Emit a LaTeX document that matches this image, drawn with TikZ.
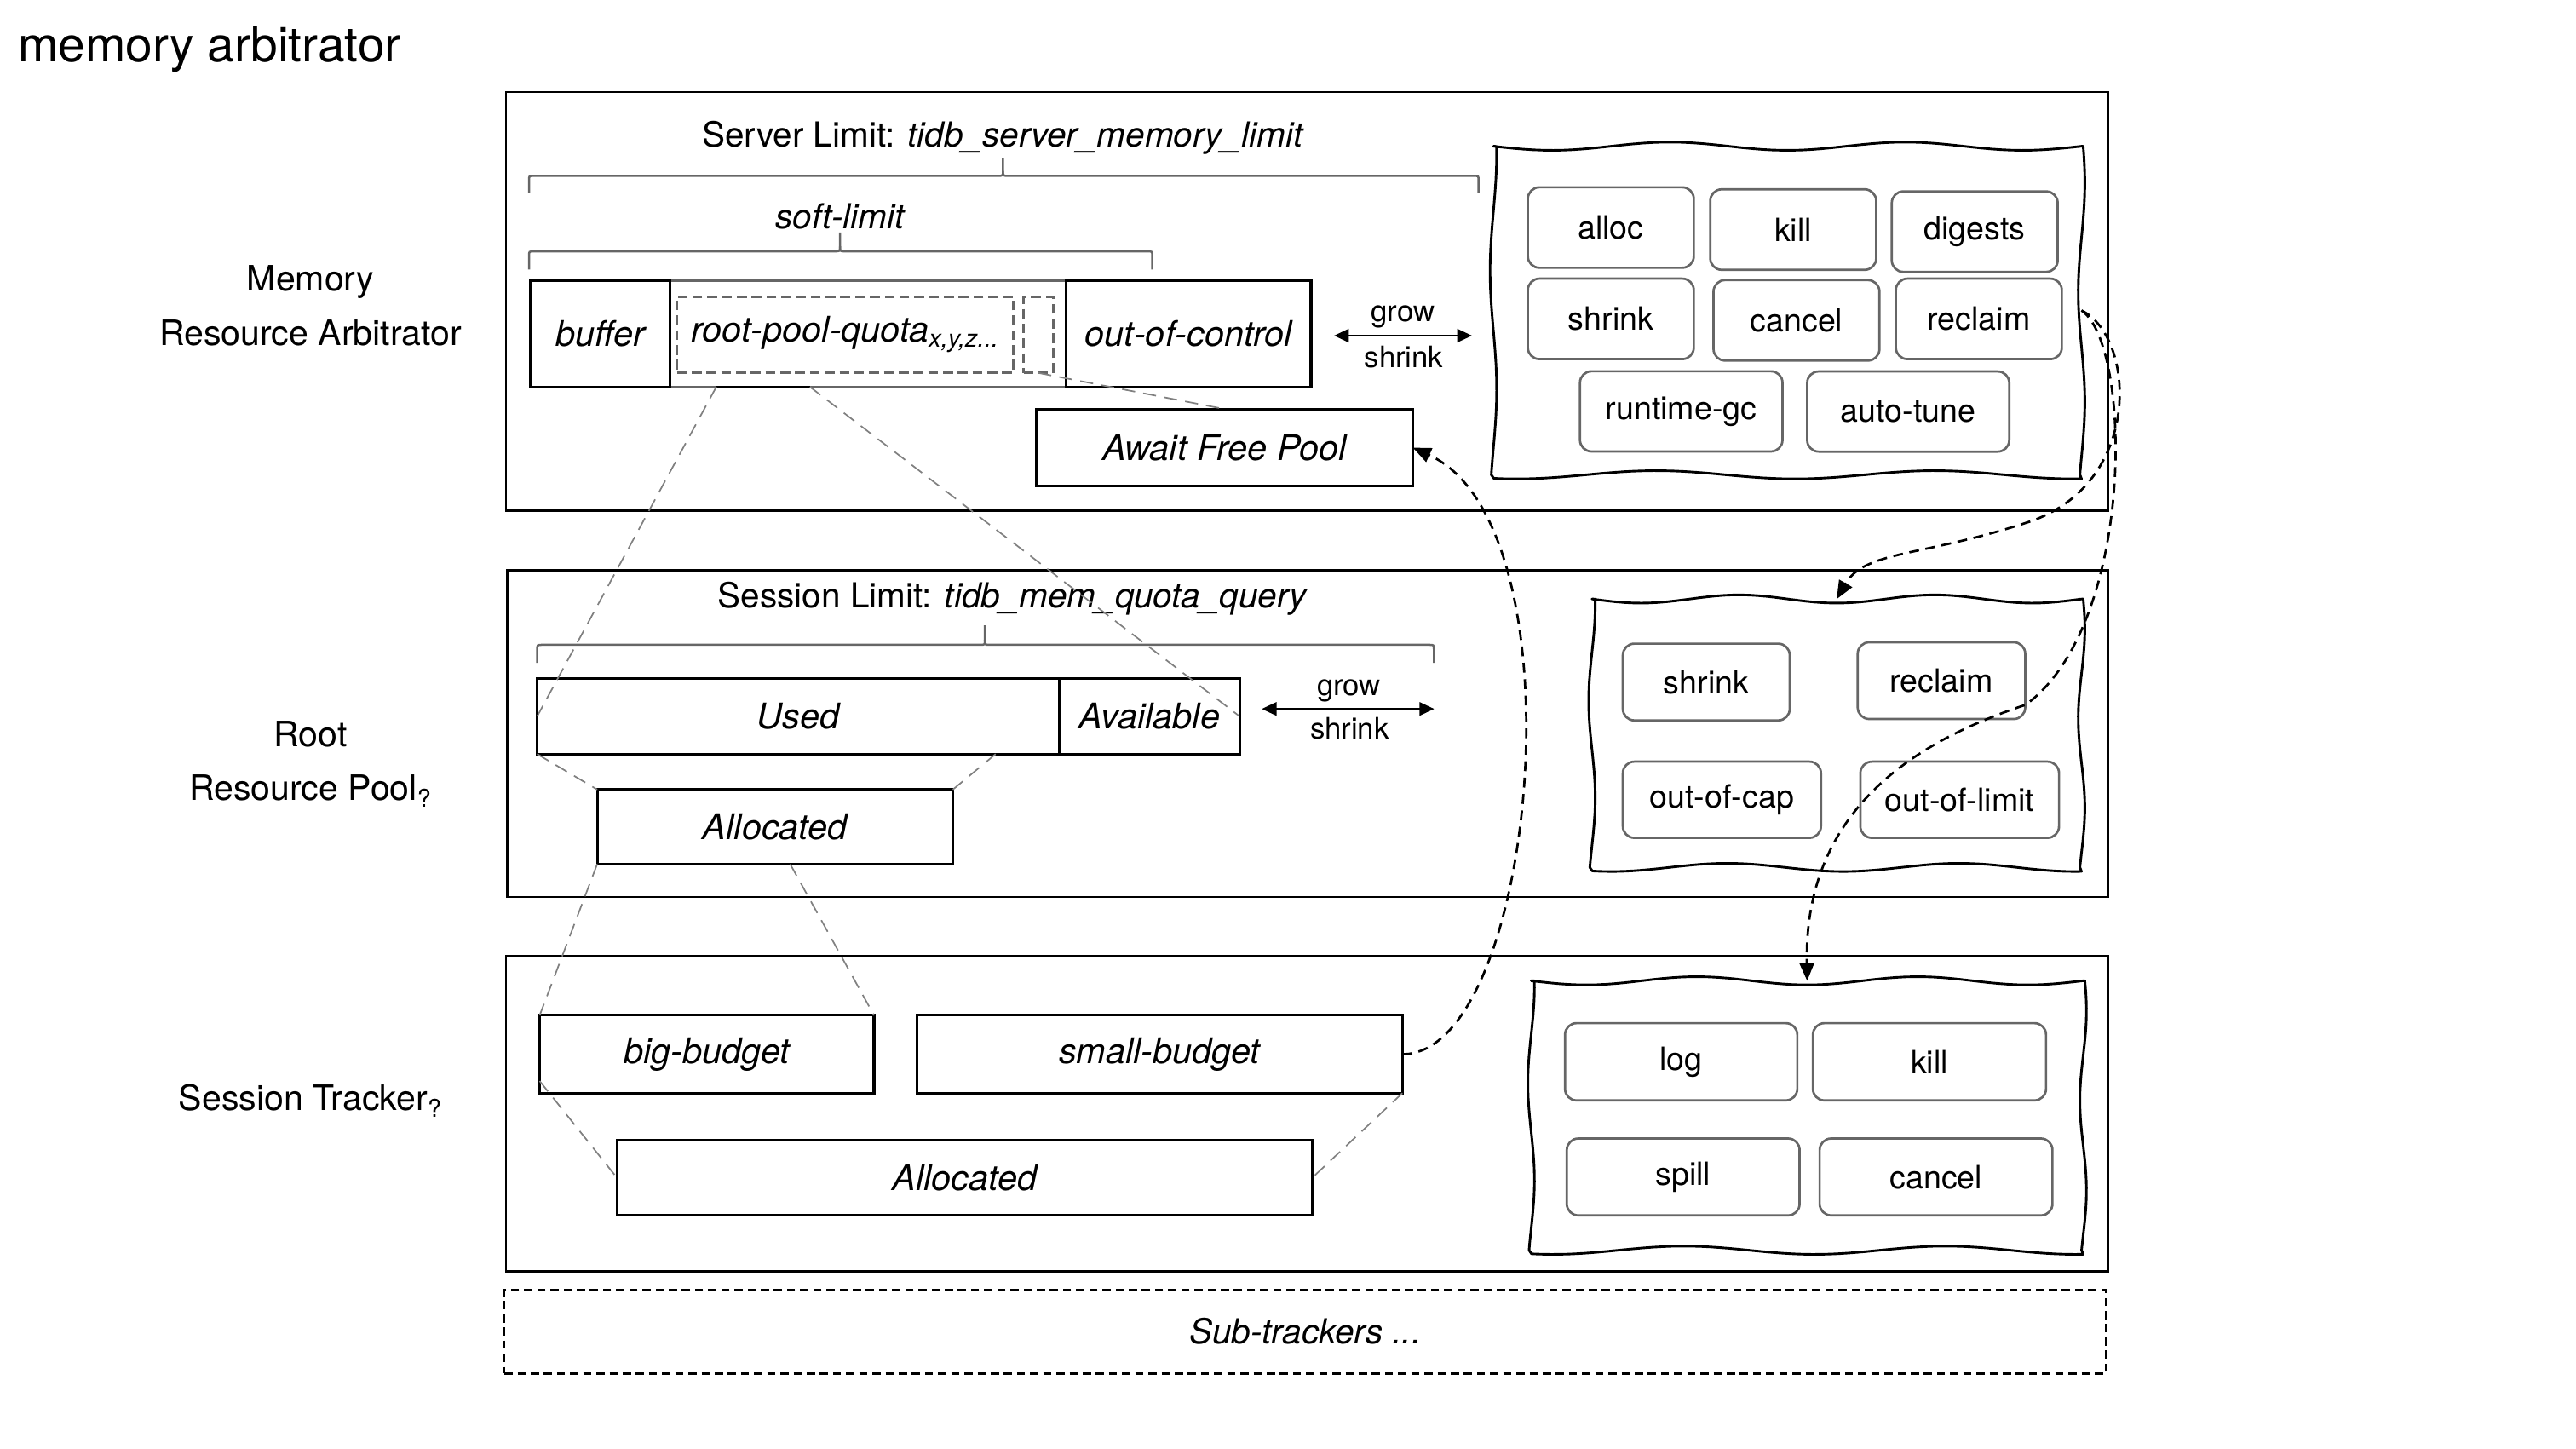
\documentclass[tikz,border=0pt]{standalone}
\usepackage{fontspec}
\setmainfont{TeX Gyre Heros}
\usetikzlibrary{arrows.meta,calc}

\definecolor{btngray}{HTML}{666666}
\definecolor{guide}{HTML}{808080}

% hand-drawn looking rectangle: x1 y1 x2 y2
\newcommand\wavyrect[4]{%
  \draw[wavy]
    plot[domain=0:1,samples=60] ({#1+(#3-#1)*\x},{#2+2.5*sin(900*\x)})
    -- plot[domain=0:1,samples=40] ({#3+2*sin(540*\x+30)},{#2+(#4-#2)*\x})
    -- plot[domain=1:0,samples=60] ({#1+(#3-#1)*\x},{#4+2.5*sin(760*\x+60)})
    -- plot[domain=1:0,samples=40] ({#1+2*sin(500*\x+80)},{#2+(#4-#2)*\x})
    -- cycle;}

\tikzset{
  sz/.style 2 args={minimum width=#1pt, minimum height=#2pt},
  secbox/.style={draw, line width=1.5pt},
  membox/.style={draw, line width=1.6pt, font=\fontsize{21.5}{25}\selectfont\itshape},
  btn/.style={draw=btngray, line width=1.4pt, rounded corners=7pt, font=\fontsize{19.5}{23}\selectfont},
  qdash/.style={draw=btngray, line width=1.5pt, dash pattern=on 6pt off 3pt},
  guideline/.style={draw=guide, line width=0.9pt, dash pattern=on 8pt off 5pt},
  limitbrace/.style={draw=btngray, line width=1.3pt},
  flow/.style={draw, line width=1.4pt, dash pattern=on 6pt off 4pt, -{Triangle[length=11pt,width=9pt]}},
  twoway/.style={draw, line width=1.5pt, {Triangle[length=9pt,width=8pt]}-{Triangle[length=9pt,width=8pt]}},
  wavy/.style={draw, line width=1.5pt, line join=round},
  lbl/.style={font=\fontsize{21.3}{33}\selectfont, align=center},
  gs/.style={font=\fontsize{18}{22}\selectfont, anchor=base},
}

\begin{document}
\begin{tikzpicture}[x=1pt,y=-1pt, every node/.style={inner sep=0pt, outer sep=0pt}, font=\fontsize{21}{25}\selectfont]
\useasboundingbox (0,0) rectangle (1568,882);

% title and layer names
\node[anchor=west, font=\fontsize{29.5}{34}\selectfont] (title) at (11,30) {memory arbitrator};
\node[lbl] (lab1) at (189,186) {Memory\\Resource Arbitrator};
\node[lbl] (lab2) at (189,465) {Root\\Resource Pool\textsubscript{?}};
\node[lbl] (lab3) at (189,670) {Session Tracker\textsubscript{?}};

% layer frames
\node[secbox, sz={975}{255}] (arb) at (795.5,183.5) {};
\node[secbox, sz={974}{199}] (root) at (796,446.5) {};
\node[secbox, sz={975}{192}] (sess) at (795.5,678) {};
\node[draw, line width=1.4pt, dash pattern=on 5pt off 3pt, sz={975}{51}, font=\fontsize{21}{25}\selectfont\itshape] (subs) at (794.5,810.5) {Sub-trackers ...};

% ---------- arbitrator layer ----------
\node (srvlim) at (610.5,84) {Server Limit: \textit{tidb\_server\_memory\_limit}};
\draw[limitbrace] (322,117.5) -- (322,110) .. controls (322,107) .. (325,107) -- (607.5,107) .. controls (610.5,107) .. (610.5,104) -- (610.5,96);
\draw[limitbrace] (610.5,104) .. controls (610.5,107) .. (613.5,107) -- (897,107) .. controls (900,107) .. (900,110) -- (900,117.5);

\node[font=\fontsize{21}{25}\selectfont\itshape] (soft) at (511.3,131.5) {soft-limit};
\draw[limitbrace] (322,164) -- (322,156) .. controls (322,153) .. (325,153) -- (508.3,153) .. controls (511.3,153) .. (511.3,150) -- (511.3,141.5);
\draw[limitbrace] (511.3,150) .. controls (511.3,153) .. (514.3,153) -- (698.4,153) .. controls (701.4,153) .. (701.4,156) -- (701.4,164);

\node[draw=btngray, line width=1.5pt, sz={241}{64.5}] (quota) at (528.5,203.25) {};
\node[membox, sz={85}{64.5}] (buffer) at (365.5,203.25) {buffer};
\node[membox, sz={149}{64.5}] (ooc) at (723.5,203.25) {out-of-control};
\node[qdash, sz={205}{46.5}, font=\fontsize{21.5}{25}\selectfont\itshape] (dq1) at (514.5,203.75) {root-pool-quota\textsubscript{x,y,z...}};
\node[qdash, sz={18}{46.5}] (dq2) at (632,203.75) {};
\coordinate (q1) at (436,235.5);
\coordinate (q2) at (493,235.5);
\draw[line width=1.6pt] (q1) -- (q2);

\coordinate (g1l) at (812,204.3);
\coordinate (g1r) at (896,204.3);
\draw[twoway] (g1l) -- (g1r);
\node[gs] (grow1) at (854,196) {grow};
\node[gs] (shrink1) at (854.5,224) {shrink};

\node[membox, sz={229}{47}] (await) at (745.5,272.5) {Await Free Pool};
\draw[guideline] (dq2.south) -- (await.north);

\node[sz={358}{200}] (wav1) at (1088,189) {};
\wavyrect{909}{89}{1267}{289}
\node[btn, sz={101}{49}] (alloc) at (980.5,138.5) {alloc};
\node[btn, sz={101}{49}] (kill1) at (1091.5,139.75) {kill};
\node[btn, sz={101}{49}] (digests) at (1202,141) {digests};
\node[btn, sz={101}{49}] (shrinkA) at (980.5,194.1) {shrink};
\node[btn, sz={101}{49}] (cancel1) at (1093.5,195) {cancel};
\node[btn, sz={101}{49}] (reclaimA) at (1204.5,194.1) {reclaim};
\node[btn, sz={123.3}{48.8}] (rgc) at (1023.35,250.4) {runtime-gc};
\node[btn, sz={123}{48.8}] (tune) at (1161.5,250.5) {auto-tune};

% ---------- root pool layer ----------
\node (seslim) at (616.5,364.3) {Session Limit: \textit{tidb\_mem\_quota\_query}};
\draw[limitbrace] (327,403.5) -- (327,395.5) .. controls (327,392.5) .. (330,392.5) -- (596.5,392.5) .. controls (599.5,392.5) .. (599.5,389.5) -- (599.5,380.6);
\draw[limitbrace] (599.5,389.5) .. controls (599.5,392.5) .. (602.5,392.5) -- (869.8,392.5) .. controls (872.8,392.5) .. (872.8,395.5) -- (872.8,403.5);

\node[membox, sz={318}{46}] (used) at (486,436) {Used};
\node[membox, sz={109.5}{46}] (avail) at (699.75,436) {Available};
\node[membox, sz={216.5}{45.4}] (alloc1) at (471.75,503.3) {Allocated};

\coordinate (g2l) at (768,431.5);
\coordinate (g2r) at (873,431.5);
\draw[twoway] (g2l) -- (g2r);
\node[gs] (grow2) at (821,423.5) {grow};
\node[gs] (shrink2) at (821.5,450) {shrink};

\node[sz={298}{163.4}] (wav2) at (1118,446.3) {};
\wavyrect{969}{364.6}{1267}{528}
\node[btn, sz={101.6}{46.7}] (shrinkB) at (1038.6,415.15) {shrink};
\node[btn, sz={102}{46.7}] (reclaimB) at (1181.75,414.3) {reclaim};
\node[btn, sz={120.6}{46.4}] (outcap) at (1048.1,486.8) {out-of-cap};
\node[btn, sz={120.9}{46.4}] (outlimit) at (1192.85,486.8) {out-of-limit};

% ---------- session tracker layer ----------
\node[membox, sz={203.5}{47.4}] (big) at (430.25,641.7) {big-budget};
\node[membox, sz={295.6}{47.4}] (small) at (705.8,641.7) {small-budget};
\node[membox, sz={423.3}{45.7}] (alloc2) at (587.15,716.85) {Allocated};

\node[sz={336}{164}] (wav3) at (1100,679) {};
\wavyrect{932}{597}{1268}{761}
\node[btn, sz={141.4}{47}] (logb) at (1023.3,646.3) {log};
\node[btn, sz={141.9}{47}] (kill3) at (1174.45,646.3) {kill};
\node[btn, sz={141.7}{46.8}] (spill) at (1024.55,716.4) {spill};
\node[btn, sz={141.7}{46.8}] (cancel3) at (1178.45,716.4) {cancel};

% ---------- zoom guides ----------
\coordinate (u1) at (606,459);
\coordinate (a1) at (481,526);
\coordinate (b1) at (328.5,658);
\draw[guideline] (q1) -- (used.west);
\draw[guideline] (q2) -- (avail.east);
\draw[guideline] (used.south west) -- (alloc1.north west);
\draw[guideline] (u1) -- (alloc1.north east);
\draw[guideline] (alloc1.south west) -- (big.north west);
\draw[guideline] (a1) -- (big.north east);
\draw[guideline] (b1) -- (alloc2.west);
\draw[guideline] (small.south east) -- (alloc2.east);

% ---------- control flow ----------
\draw[flow] (small.east) .. controls (935,642) and (965,320) .. (await.east);
\draw[flow] (wav1.east) .. controls (1300,205) and (1305,295) .. (1234,318) .. controls (1170,339) and (1135,335) .. (wav2.north);
\draw[flow] (wav1.east) .. controls (1298,210) and (1300,380) .. (1233,429) .. controls (1170,450) and (1098,490) .. (wav3.north);

\end{tikzpicture}
\end{document}
